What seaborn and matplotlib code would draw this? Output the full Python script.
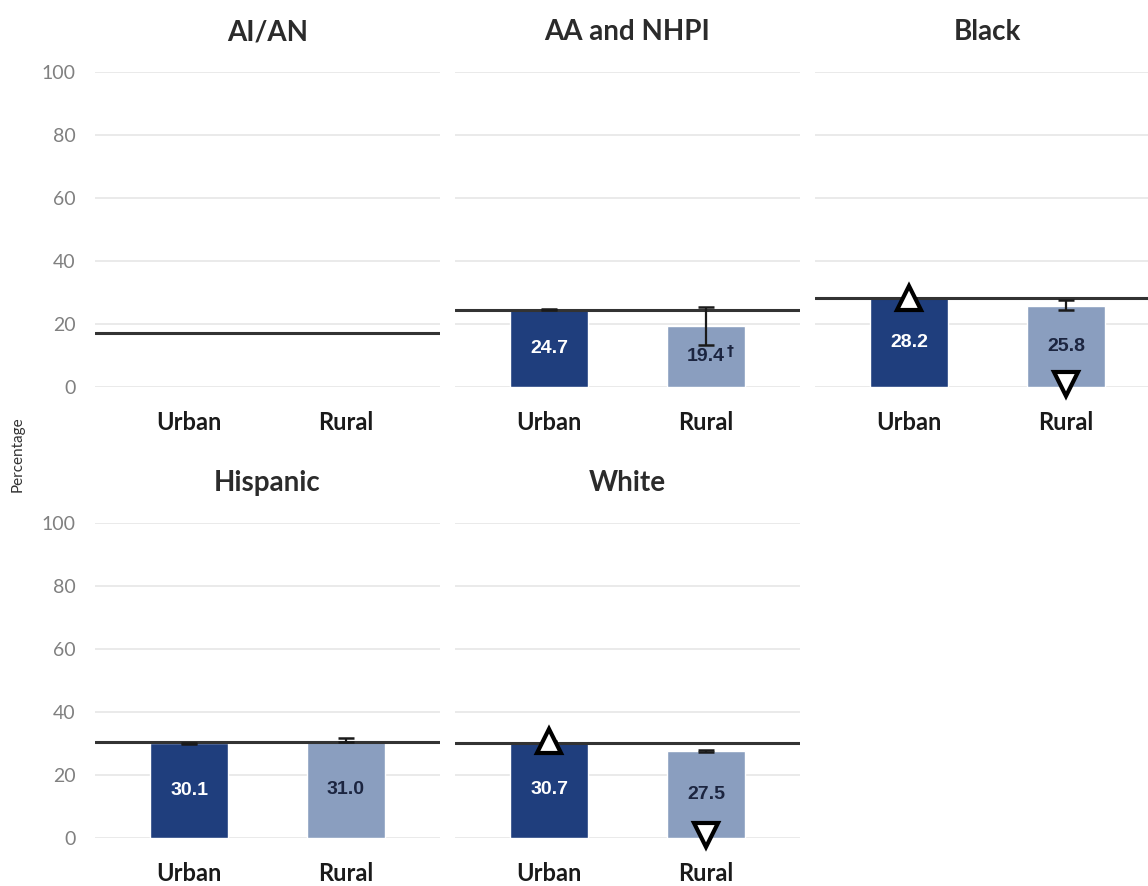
import numpy as np
import pandas as pd
import matplotlib
matplotlib.use("Agg")
import matplotlib.pyplot as plt
import seaborn as sns

# ---------------- data ----------------
groups = ["AI/AN", "AA and NHPI", "Black", "Hispanic", "White"]
locations = ["Urban", "Rural"]
urban = [np.nan, 24.7, 28.2, 30.1, 30.7]
rural = [np.nan, 19.4, 25.8, 31.0, 27.5]
overall = [17.3, 24.6, 28.2, 30.4, 30.3]
urban_lo = [np.nan, 24.5, 28.0, 29.9, 30.5]
urban_hi = [np.nan, 24.9, 28.4, 30.3, 30.9]
rural_lo = [np.nan, 13.3, 24.4, 30.4, 27.2]
rural_hi = [np.nan, 25.5, 27.5, 31.6, 27.8]
urban_sig = ["", "", "up", "", "up"]
rural_sig = ["", "", "down", "", "down"]
rural_note = ["", "\u2020", "", "", ""]
yticks = [0, 20, 40, 60, 80, 100]

# ---------------- style ----------------
sns.set_theme(style="white")
plt.rcParams["font.family"] = ["Lato", "DejaVu Sans"]

URBAN_C = "#1f3e7d"
RURAL_C = "#8a9ebf"
GRID_C = "#e8e8e8"
TICK_C = "#808080"
TITLE_C = "#2b2b2b"
RURAL_TXT = "#1c2540"
NUM_FONT = ["Liberation Sans Narrow", "Liberation Sans", "DejaVu Sans"]

W, H = 1148, 886
fig = plt.figure(figsize=(W / 100, H / 100), dpi=100)

# panel positions in pixels (left, top-of-100, bottom-of-0)
col_left = [95, 455, 815]
row_y = [(72, 387), (523, 838)]
panel_w = 345
layout = [(0, 0), (0, 1), (0, 2), (1, 0), (1, 1)]

for i, g in enumerate(groups):
    r, c = layout[i]
    top, bot = row_y[r]
    ax = fig.add_axes([col_left[c] / W, 1 - bot / H, panel_w / W, (bot - top) / H])
    df = pd.DataFrame({"loc": locations, "value": [urban[i], rural[i]]})
    if not np.all(np.isnan(df["value"])):
        sns.barplot(data=df, x="loc", y="value", hue="loc", order=locations,
                    hue_order=locations, palette=[URBAN_C, RURAL_C],
                    width=0.5, dodge=False, legend=False, ax=ax,
                    saturation=1, zorder=2)
    else:
        ax.set_xticks([0, 1])
        ax.set_xticklabels(locations)
    ax.set_xlim(-0.6, 1.6)
    ax.set_ylim(0, 100)
    ax.set_yticks(yticks)
    for y in yticks:
        ax.axhline(y, color=GRID_C, lw=1.3, zorder=0)
    ax.grid(False)
    for s in ax.spines.values():
        s.set_visible(False)
    ax.set_xlabel("")
    ax.set_ylabel("")
    ax.tick_params(axis="x", length=0, pad=17, labelsize=17, colors="#1a1a1a")
    for lab in ax.get_xticklabels():
        lab.set_fontweight("bold")
    if c == 0:
        ax.tick_params(axis="y", length=0, pad=14, labelsize=14, colors=TICK_C)
    else:
        ax.tick_params(axis="y", length=0, labelleft=False)
    ax.set_title(g, fontsize=20, fontweight="bold", color=TITLE_C, pad=23)

    # overall reference line
    ax.axhline(overall[i], color="#333333", lw=2.2, zorder=3)

    # error bars
    for x, v, lo, hi in [(0, urban[i], urban_lo[i], urban_hi[i]),
                         (1, rural[i], rural_lo[i], rural_hi[i])]:
        if np.isnan(v):
            continue
        ax.errorbar([x], [v], yerr=[[v - lo], [hi - v]], fmt="none",
                    ecolor="#1a1a1a", elinewidth=1.6, capsize=6, capthick=1.8,
                    zorder=4)

    # value labels
    if not np.isnan(urban[i]):
        ax.text(0, urban[i] / 2, f"{urban[i]:.1f}", ha="center", va="center",
                color="white", fontsize=14, fontweight="bold",
                family=NUM_FONT, zorder=5)
    if not np.isnan(rural[i]):
        ax.text(1, rural[i] / 2, f"{rural[i]:.1f}", ha="center", va="center",
                color=RURAL_TXT, fontsize=14, fontweight="bold",
                family=NUM_FONT, zorder=5)
        if rural_note[i]:
            ax.annotate(rural_note[i], xy=(1, rural[i] / 2), xytext=(15, 4),
                        textcoords="offset points", ha="left", va="center",
                        color=RURAL_TXT, fontsize=10, fontweight="bold",
                        family=["DejaVu Sans"], zorder=5)

    # significance markers
    if urban_sig[i] == "up":
        ax.plot([0], [urban[i]], marker="^", ms=17, mfc="white", mec="black",
                mew=3, zorder=6, clip_on=False)
    if rural_sig[i] == "down":
        ax.plot([1], [1.0], marker="v", ms=17, mfc="white", mec="black",
                mew=3, zorder=6, clip_on=False)

fig.text(18 / W, 1 - 454 / H, "Percentage", rotation=90, ha="center",
         va="center", fontsize=11, color="#333333")

fig.savefig("out.png", dpi=100)
